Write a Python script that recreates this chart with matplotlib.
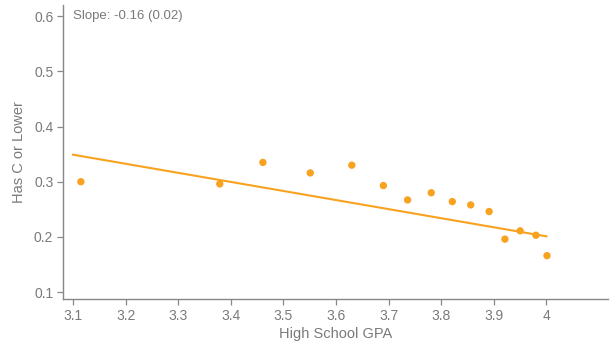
import matplotlib.pyplot as plt

# binned high school GPA vs share with C or lower
gpa = [3.115, 3.379, 3.461, 3.551, 3.630, 3.690, 3.736, 3.781, 3.821,
       3.856, 3.891, 3.921, 3.950, 3.980, 4.001]
share_c = [0.300, 0.296, 0.335, 0.316, 0.330, 0.293, 0.267, 0.280, 0.264,
           0.258, 0.246, 0.196, 0.211, 0.203, 0.166]

# fitted line endpoints
fit_x = [3.1, 4.0]
fit_y = [0.349, 0.201]
slope_text = "Slope: -0.16 (0.02)"

xticks = [3.1, 3.2, 3.3, 3.4, 3.5, 3.6, 3.7, 3.8, 3.9, 4.0]
xticklabels = ["3.1", "3.2", "3.3", "3.4", "3.5", "3.6", "3.7", "3.8", "3.9", "4"]
yticks = [0.1, 0.2, 0.3, 0.4, 0.5, 0.6]

orange = "#f8a21f"
grey = "#7a7a7a"

plt.rcParams['font.family'] = ['Liberation Sans', 'DejaVu Sans']

fig = plt.figure(figsize=(6.11, 3.43), dpi=100)
ax = fig.add_axes([0.1031, 0.128, 0.892, 0.857])

ax.plot(fit_x, fit_y, color=orange, lw=1.5, zorder=2)
ax.scatter(gpa, share_c, color=orange, s=28, edgecolors='none', zorder=3)

ax.set_xlim(3.081, 4.117)
ax.set_ylim(0.0873, 0.62)
ax.set_xticks(xticks)
ax.set_xticklabels(xticklabels)
ax.set_yticks(yticks)
ax.set_yticklabels([f"{v:.1f}" for v in yticks])

for s in ['top', 'right']:
    ax.spines[s].set_visible(False)
for s in ['left', 'bottom']:
    ax.spines[s].set_color('#888888')
    ax.spines[s].set_linewidth(1.0)
ax.tick_params(colors='#888888', labelcolor=grey, labelsize=10, length=4, width=0.9, pad=3)

ax.set_xlabel("High School GPA", color=grey, fontsize=10.5, labelpad=3)
ax.set_ylabel("Has C or Lower", color=grey, fontsize=10.5, labelpad=6)

ax.text(3.1, 0.6, slope_text, color=grey, fontsize=9.5, ha='left', va='center')

fig.savefig("out.png", dpi=100)
